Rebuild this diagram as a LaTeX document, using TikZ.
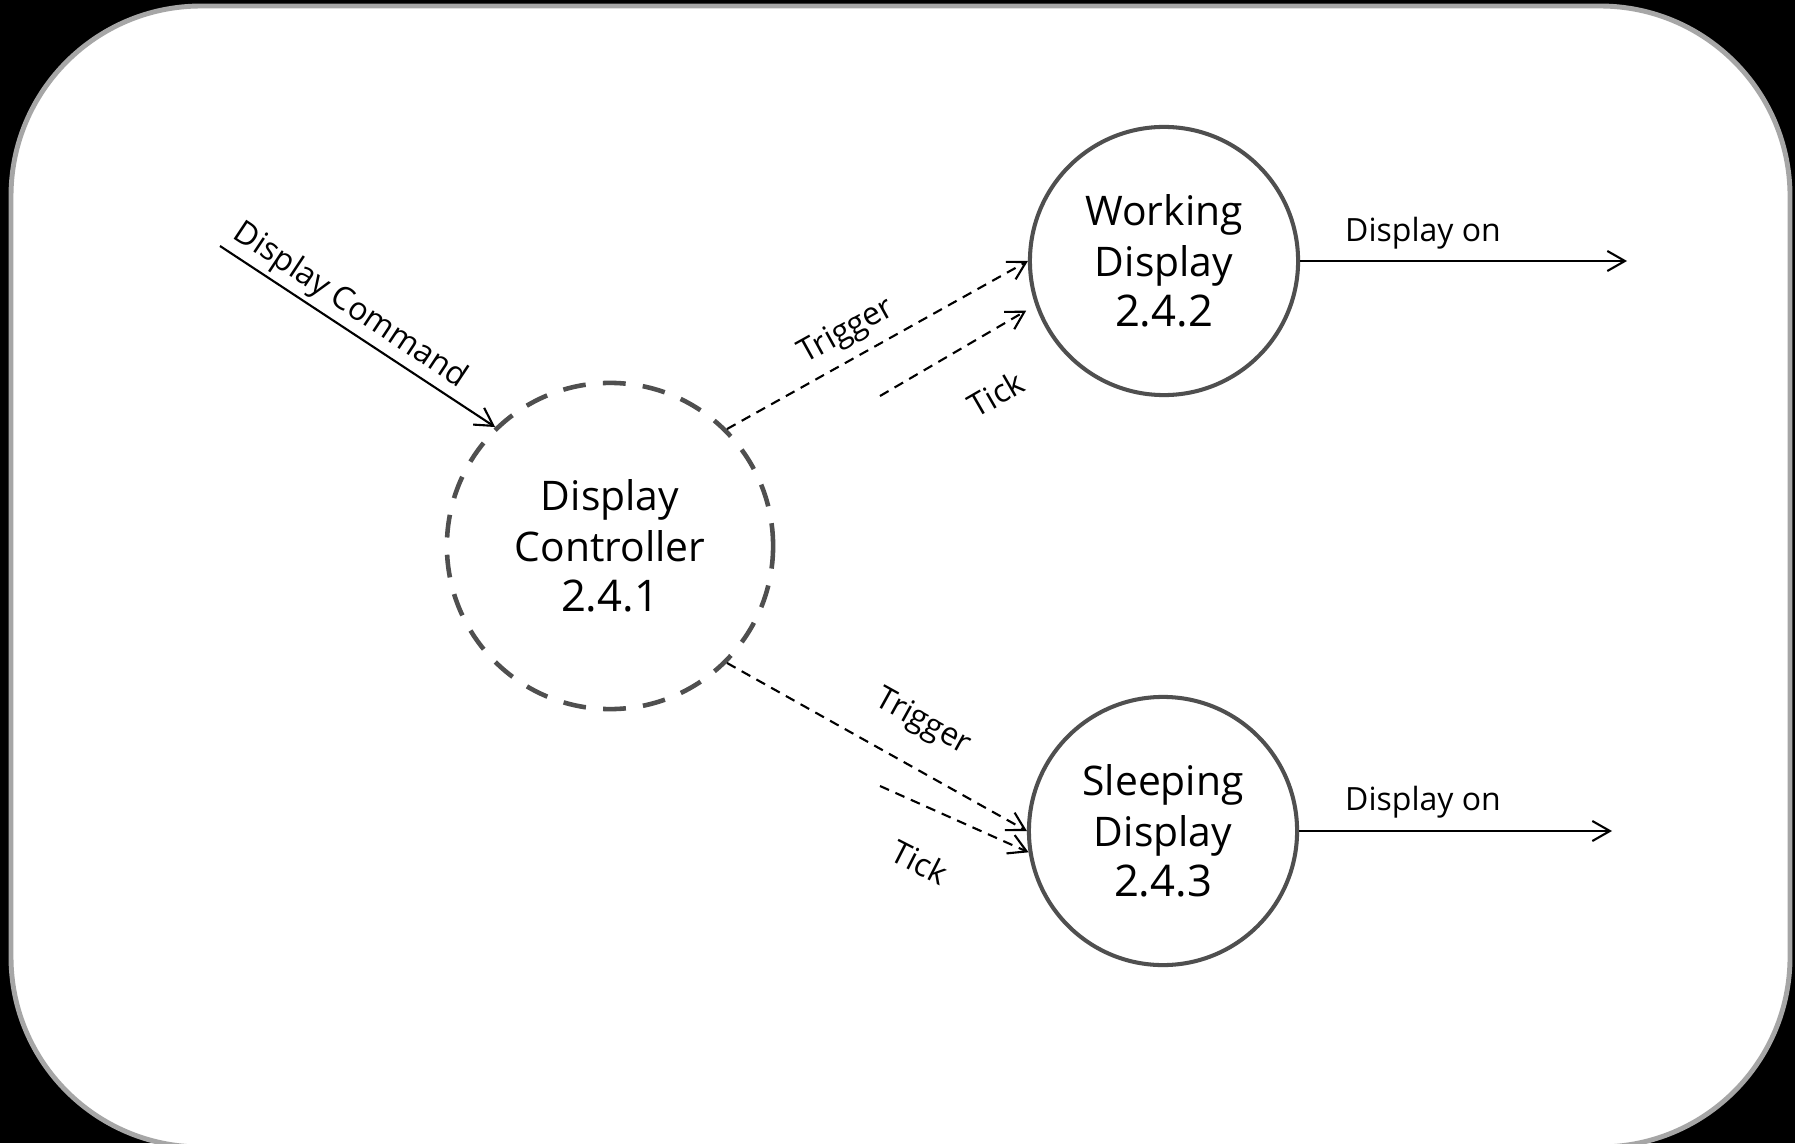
\documentclass[tikz,border=0pt]{standalone}
\usepackage{fontspec}
\setmainfont{Open Sans}
\usetikzlibrary{arrows.meta,positioning}

\newcommand{\procnum}[1]{{\fontsize{12.4}{14.4}\selectfont #1}}

\begin{document}
\begin{tikzpicture}[x=0.01cm, y=-0.01cm,
    proc/.style={circle, draw=black!69, line width=1.15pt, minimum size=2.68cm, inner sep=0pt,
                 align=center, font=\fontsize{11.6}{14.4}\selectfont},
    flow/.style={-{Straight Barb[length=5pt,width=5.7pt]}, line width=0.6pt},
    dflow/.style={flow, dash pattern=on 2.8pt off 2pt},
    lbl/.style={font=\fontsize{9.1}{11}\selectfont, inner sep=0pt}]
	\useasboundingbox (0,0) rectangle (1795,1143);
	\fill[black] (0,0) rectangle (1795,1143);
	\draw[fill=white, draw=black!35, line width=1.4pt, rounded corners=1.9cm] (11,6) rectangle (1790,1147);

	% processes
	\node[proc, line width=1.3pt, dash pattern=on 6.5pt off 4.9pt, minimum size=3.26cm] (ctrl) at (610,546) {Display\\Controller\\\procnum{2.4.1}};
	\node[proc] (work) at (1164,261) {Working\\Display\\\procnum{2.4.2}};
	\node[proc] (sleep) at (1163,831) {Sleeping\\Display\\\procnum{2.4.3}};

	% free ends
	\coordinate (cmd) at (220,246);
	\coordinate (tickW) at (880,396);
	\coordinate (tickS) at (880,786);
	\coordinate (outW) at (1627,261);
	\coordinate (outS) at (1612,831);

	\draw[flow] (cmd) -- (ctrl.134);
	\draw[dflow] (ctrl.45) -- (work.180);
	\draw[dflow, shorten >=3pt] (tickW) -- (work.199);
	\draw[dflow] (ctrl.-45) -- (sleep.180);
	\draw[dflow] (tickS) -- (sleep.189);
	\draw[flow] (work.east) -- (outW);
	\draw[flow] (sleep.east) -- (outS);

	% labels
	\node[lbl, rotate=-33.6] (cmdlbl) at (350,306) {Display Command};
	\node[lbl, rotate=29] (trigWlbl) at (847,332) {Trigger};
	\node[lbl, rotate=30] (tickWlbl) at (996,394) {Tick};
	\node[lbl, rotate=-29] (trigSlbl) at (923,723) {Trigger};
	\node[lbl, rotate=-27] (tickSlbl) at (920,862) {Tick};
	\node[lbl] (onW) at (1423,233) {Display on};
	\node[lbl] (onS) at (1423,802) {Display on};
\end{tikzpicture}
\end{document}
